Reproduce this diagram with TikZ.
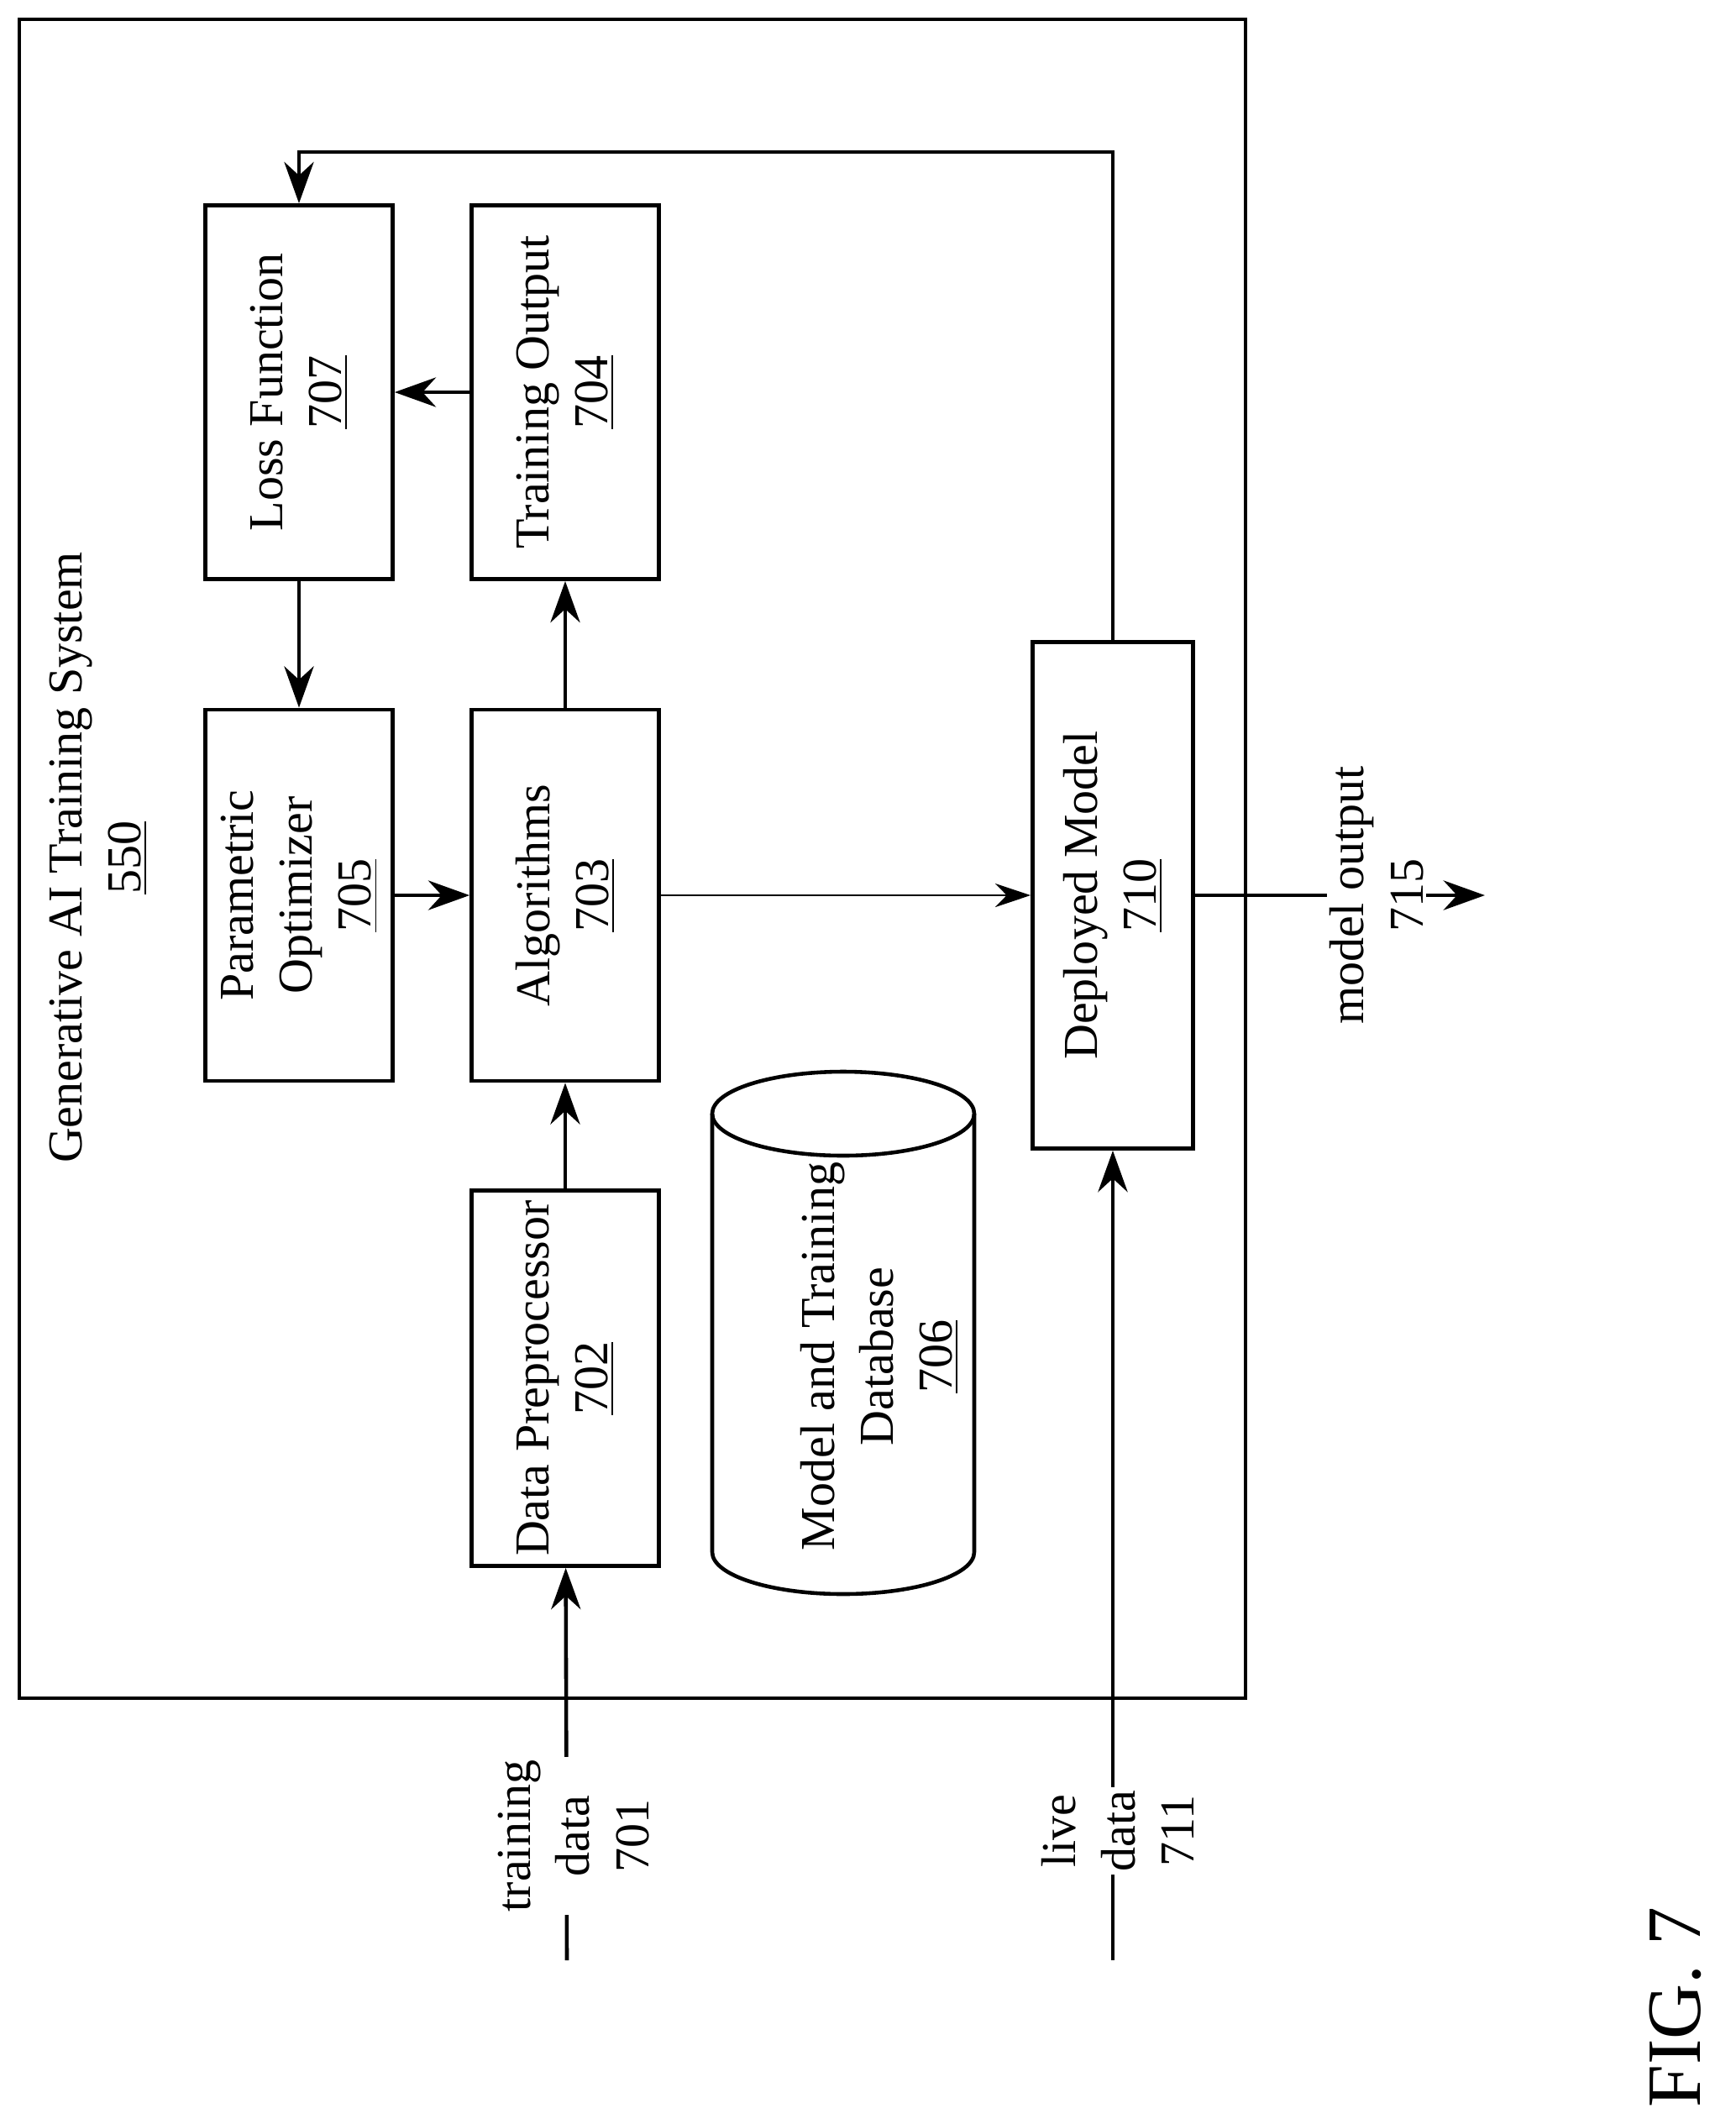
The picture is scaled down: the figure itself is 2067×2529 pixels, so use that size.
\documentclass[tikz,border=0pt]{standalone}
\usepackage{fontspec}
\setmainfont{Liberation Serif}
\usetikzlibrary{arrows.meta,positioning}

\tikzset{
  blk/.style={draw, line width=1.3pt, rotate=90, align=center, inner sep=0pt,
    font=\fontsize{16.5}{20}\selectfont},
  lbl/.style={rotate=90, align=center, inner sep=1pt, fill=white,
    font=\fontsize{16.5}{20}\selectfont},
  arr/.style={line width=1.3pt, -{Stealth[length=14pt,width=10pt]}},
}

\begin{document}
\begin{tikzpicture}[x=0.01cm, y=-0.01cm]

        \useasboundingbox (0,0) rectangle (2067,2529);

        % outer frame and title
        \draw[line width=1.3pt] (23,23) rectangle (1483,2022);
        \node (title) [lbl] at (117,1021) {Generative AI Training System\\\underline{550}};

        % blocks
        \node (LF) [blk, minimum width=4.45cm, minimum height=2.23cm] at (356,467)
        {Loss Function\\\underline{707}};
        \node (TO) [blk, minimum width=4.45cm, minimum height=2.23cm] at (673,467)
        {Training Output\\\underline{704}};
        \node (PO) [blk, minimum width=4.42cm, minimum height=2.23cm] at (356,1066)
        {Parametric\\Optimizer\\\underline{705}};
        \node (AL) [blk, minimum width=4.42cm, minimum height=2.23cm] at (673,1066)
        {Algorithms\\\underline{703}};
        \node (DP) [blk, minimum width=4.47cm, minimum height=2.23cm] at (673,1641)
        {Data Preprocessor\\\underline{702}};
        \node (DM) [blk, minimum width=6.03cm, minimum height=1.91cm] at (1325,1066)
        {Deployed Model\\\underline{710}};

        % database cylinder
        \draw[line width=1.3pt, fill=white] (848,1326) -- (848,1848)
            arc[start angle=180, end angle=0, x radius=156, y radius=50]
            -- (1160,1326);
        \draw[line width=1.3pt] (1004,1326) ellipse[x radius=156, y radius=50];
        \node (DB) [lbl, fill=none] at (1047,1615)
        {Model and Training\\Database\\\underline{706}};

        % free ends
        \coordinate (fb) at (1325,181);
        \coordinate (td) at (675,2334);
        \coordinate (lv) at (1325,2334);
        \coordinate (mo) at (1768,1066);

        % connectors
        \draw[arr] (TO) -- (LF);
        \draw[arr] (LF) -- (PO);
        \draw[arr] (PO) -- (AL);
        \draw[arr] (AL) -- (TO);
        \draw[arr] (DP) -- (AL);
        \draw[line width=0.6pt, -{Stealth[length=12pt,width=8pt]}] (AL) -- (DM);
        \draw[arr] (DM.east) -- (fb) -| (LF.east);
        \draw[arr] (td) -- (DP);
        \draw[arr] (lv) -- (DM);
        \draw[arr] (DM) -- (mo);

        % labels on lines
        \node (tdl) [lbl] at (683,2186) {training\\data\\701};
        \node (lvl) [lbl] at (1331,2180) {live\\data\\711};
        \node (mol) [lbl] at (1639,1066) {model output\\715};

        \node (fig) [rotate=90, font=\fontsize{26}{30}\selectfont] at (1995,2390) {FIG. 7};

\end{tikzpicture}
\end{document}
